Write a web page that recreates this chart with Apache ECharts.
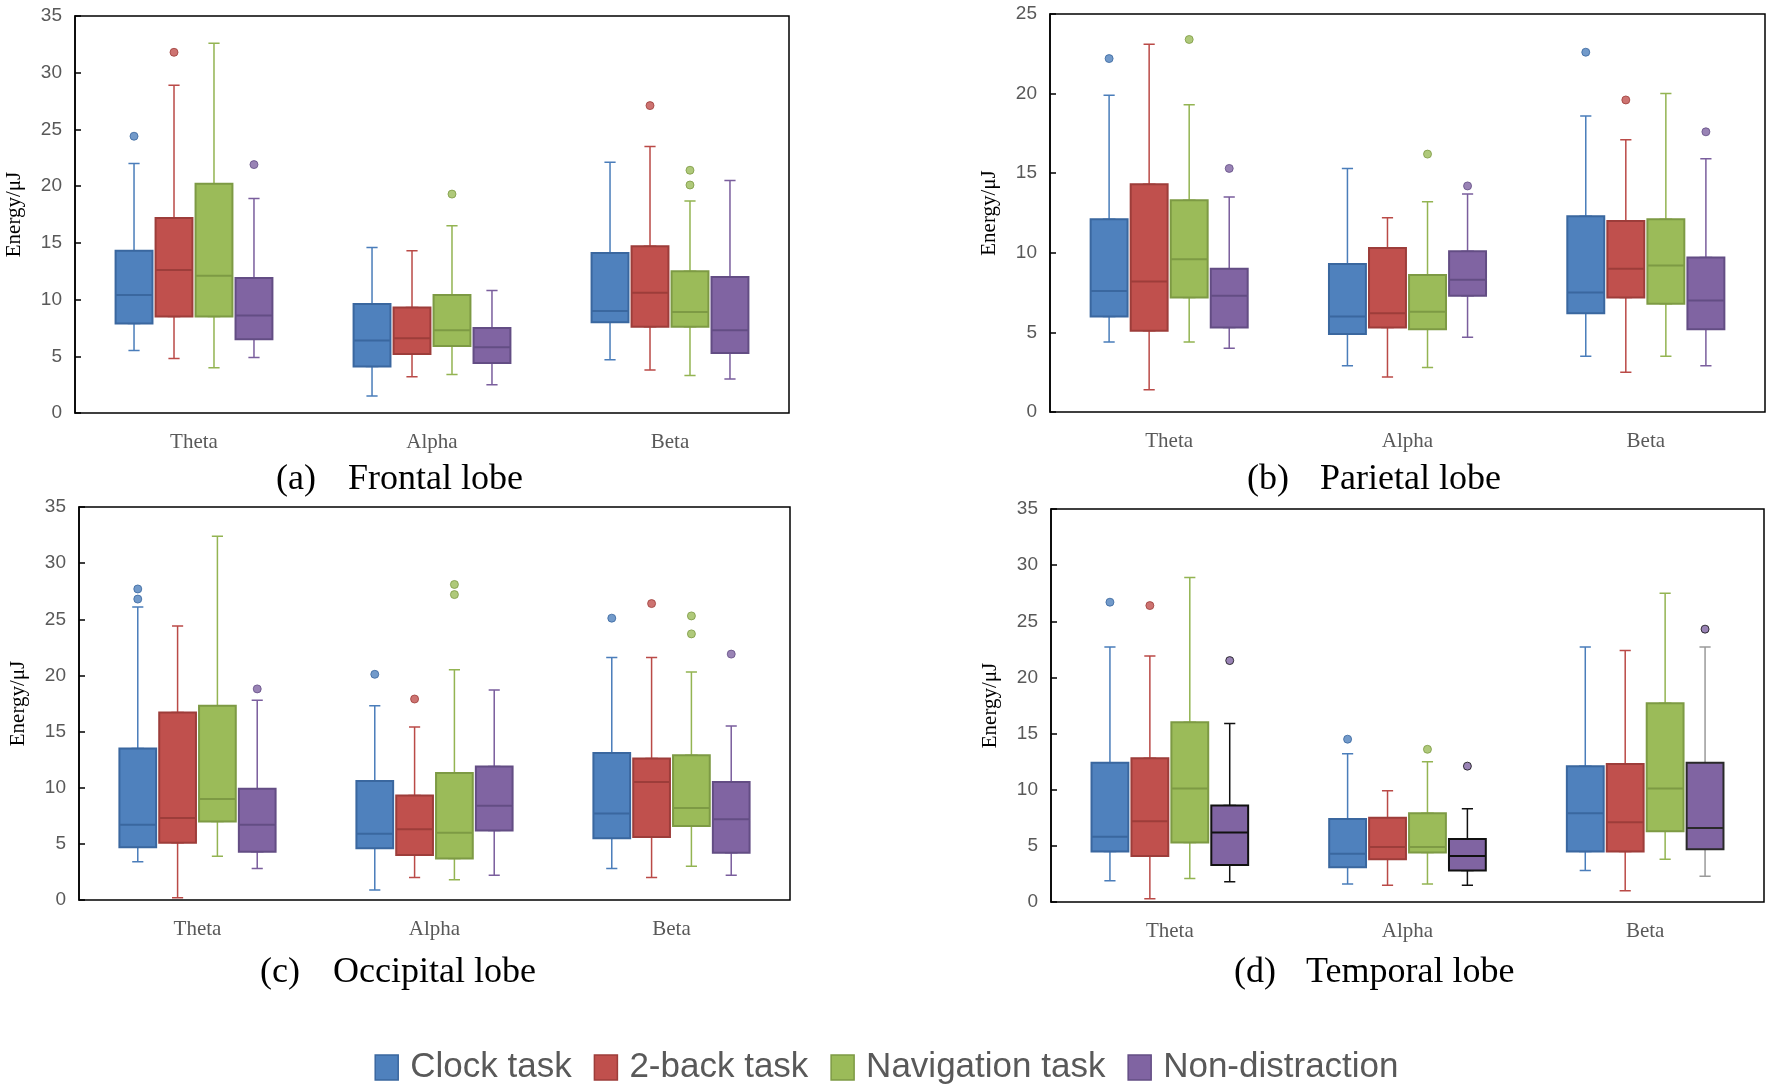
<!DOCTYPE html>
<html><head><meta charset="utf-8">
<script src="https://cdn.jsdelivr.net/npm/echarts@6/dist/echarts.min.js"></script>
<style>html,body{margin:0;padding:0;background:#fff}#c{width:1773px;height:1087px}</style>
</head><body><div id="c"></div>
<script>
// ---------- data ----------
const categories = ['Theta', 'Alpha', 'Beta'];
const seriesNames = ['Clock task', '2-back task', 'Navigation task', 'Non-distraction'];
const ticks35 = [0, 5, 10, 15, 20, 25, 30, 35];
const ticks25 = [0, 5, 10, 15, 20, 25];

// five-number summaries [min, Q1, median, Q3, max] per category (Theta, Alpha, Beta)
const frontalClock = [[5.5, 7.9, 10.4, 14.3, 22.0], [1.5, 4.1, 6.4, 9.6, 14.6], [4.7, 8.0, 9.0, 14.1, 22.1]];
const frontal2back = [[4.8, 8.5, 12.6, 17.2, 28.9], [3.2, 5.2, 6.6, 9.3, 14.3], [3.8, 7.6, 10.6, 14.7, 23.5]];
const frontalNav   = [[4.0, 8.5, 12.1, 20.2, 32.6], [3.4, 5.9, 7.3, 10.4, 16.5], [3.3, 7.6, 8.9, 12.5, 18.7]];
const frontalNon   = [[4.9, 6.5, 8.6, 11.9, 18.9], [2.5, 4.4, 5.8, 7.5, 10.8], [3.0, 5.3, 7.3, 12.0, 20.5]];
const frontalClockOut = [['Theta', 24.4]];
const frontal2backOut = [['Theta', 31.8], ['Beta', 27.1]];
const frontalNavOut   = [['Alpha', 19.3], ['Beta', 21.4], ['Beta', 20.1]];
const frontalNonOut   = [['Theta', 21.9]];

const parietalClock = [[4.4, 6.0, 7.6, 12.1, 19.9], [2.9, 4.9, 6.0, 9.3, 15.3], [3.5, 6.2, 7.5, 12.3, 18.6]];
const parietal2back = [[1.4, 5.1, 8.2, 14.3, 23.1], [2.2, 5.3, 6.2, 10.3, 12.2], [2.5, 7.2, 9.0, 12.0, 17.1]];
const parietalNav   = [[4.4, 7.2, 9.6, 13.3, 19.3], [2.8, 5.2, 6.3, 8.6, 13.2], [3.5, 6.8, 9.2, 12.1, 20.0]];
const parietalNon   = [[4.0, 5.3, 7.3, 9.0, 13.5], [4.7, 7.3, 8.3, 10.1, 13.7], [2.9, 5.2, 7.0, 9.7, 15.9]];
const parietalClockOut = [['Theta', 22.2], ['Beta', 22.6]];
const parietal2backOut = [['Beta', 19.6]];
const parietalNavOut   = [['Theta', 23.4], ['Alpha', 16.2]];
const parietalNonOut   = [['Theta', 15.3], ['Alpha', 14.2], ['Beta', 17.6]];

const occipitalClock = [[3.4, 4.7, 6.7, 13.5, 26.1], [0.9, 4.6, 5.9, 10.6, 17.3], [2.8, 5.5, 7.7, 13.1, 21.6]];
const occipital2back = [[0.2, 5.1, 7.3, 16.7, 24.4], [2.0, 4.0, 6.3, 9.3, 15.4], [2.0, 5.6, 10.5, 12.6, 21.6]];
const occipitalNav   = [[3.9, 7.0, 9.0, 17.3, 32.4], [1.8, 3.7, 6.0, 11.3, 20.5], [3.0, 6.6, 8.2, 12.9, 20.3]];
const occipitalNon   = [[2.8, 4.3, 6.7, 9.9, 17.8], [2.2, 6.2, 8.4, 11.9, 18.7], [2.2, 4.2, 7.2, 10.5, 15.5]];
const occipitalClockOut = [['Theta', 27.7], ['Theta', 26.8], ['Alpha', 20.1], ['Beta', 25.1]];
const occipital2backOut = [['Alpha', 17.9], ['Beta', 26.4]];
const occipitalNavOut   = [['Alpha', 28.1], ['Alpha', 27.2], ['Beta', 25.3], ['Beta', 23.7]];
const occipitalNonOut   = [['Theta', 18.8], ['Beta', 21.9]];

const temporalClock = [[1.9, 4.5, 5.8, 12.4, 22.7], [1.6, 3.1, 4.3, 7.4, 13.2], [2.8, 4.5, 7.9, 12.1, 22.7]];
const temporal2back = [[0.3, 4.1, 7.2, 12.8, 21.9], [1.5, 3.8, 4.9, 7.5, 9.9], [1.0, 4.5, 7.1, 12.3, 22.4]];
const temporalNav   = [[2.1, 5.3, 10.1, 16.0, 28.9], [1.6, 4.4, 4.9, 7.9, 12.5], [3.8, 6.3, 10.1, 17.7, 27.5]];
const temporalNon   = [[1.8, 3.3, 6.2, 8.6, 15.9], [1.5, 2.8, 4.1, 5.6, 8.3], [2.3, 4.7, 6.6, 12.4, 22.7]];
const temporalClockOut = [['Theta', 26.7], ['Alpha', 14.5]];
const temporal2backOut = [['Theta', 26.4]];
const temporalNavOut   = [['Alpha', 13.6]];
const temporalNonOut   = [['Theta', 21.5], ['Alpha', 12.1], ['Beta', 24.3]];

// ---------- styles ----------
const fills    = ['#4F81BD', '#C0504D', '#9BBB59', '#8064A2'];
const borders  = ['#3A679F', '#9D3D3A', '#7D9A44', '#634D84'];
const whiskers = ['#4A7DBA', '#BA4A47', '#93B452', '#7A5E9D'];

const panels = [
  { rect: [75, 16, 714, 397], ticks: ticks35,
    boxes: [frontalClock, frontal2back, frontalNav, frontalNon],
    outs: [frontalClockOut, frontal2backOut, frontalNavOut, frontalNonOut],
    label: '(a)', title: 'Frontal lobe', tx: [316, 348, 480] },
  { rect: [1050, 14, 715, 398], ticks: ticks25,
    boxes: [parietalClock, parietal2back, parietalNav, parietalNon],
    outs: [parietalClockOut, parietal2backOut, parietalNavOut, parietalNonOut],
    label: '(b)', title: 'Parietal lobe', tx: [1289, 1320, 480] },
  { rect: [79, 507, 711, 393], ticks: ticks35,
    boxes: [occipitalClock, occipital2back, occipitalNav, occipitalNon],
    outs: [occipitalClockOut, occipital2backOut, occipitalNavOut, occipitalNonOut],
    label: '(c)', title: 'Occipital lobe', tx: [300, 333, 973] },
  { rect: [1051, 509, 713, 393], ticks: ticks35,
    boxes: [temporalClock, temporal2back, temporalNav, temporalNon],
    outs: [temporalClockOut, temporal2backOut, temporalNavOut, temporalNonOut],
    label: '(d)', title: 'Temporal lobe', tx: [1276, 1306, 973],
    nonBorder: ['#111', '#111', '#2a2a2a'], nonWhisker: ['#111', '#111', '#9a9a9a'] }
];

const grids = [], xAxes = [], yAxes = [], series = [], graphics = [];

panels.forEach((p) => {
  const [L, T, W, H] = p.rect;
  const ymin = p.ticks[0], ymax = p.ticks[p.ticks.length - 1], interval = p.ticks[1] - p.ticks[0];
  const gi = grids.length;
  grids.push({ left: L, top: T, width: W, height: H, show: true, borderColor: '#000', borderWidth: 1.5,
               backgroundColor: 'rgba(0,0,0,0)', containLabel: false, outerBoundsMode: 'none' });
  xAxes.push({ type: 'category', gridIndex: gi, data: categories,
    axisLine: { show: false }, axisTick: { show: false }, splitLine: { show: false },
    axisLabel: { margin: 19, fontFamily: 'Liberation Serif', fontSize: 21, color: '#595959' } });
  yAxes.push({ type: 'value', gridIndex: gi, min: ymin, max: ymax, interval: interval,
    name: 'Energy/μJ', nameLocation: 'middle', nameGap: 50,
    nameTextStyle: { fontFamily: 'Liberation Serif', fontSize: 21, color: '#000' },
    axisLine: { show: true, lineStyle: { color: '#000', width: 1.5 } },
    axisTick: { show: true, inside: true, length: 6, lineStyle: { color: '#000', width: 1.5 } },
    axisLabel: { margin: 13, fontFamily: 'Liberation Sans', fontSize: 19, color: '#595959' },
    splitLine: { show: false } });

  const band = W / categories.length;
  const step = band * 0.168;
  const boxW = band * 0.155;
  const capW = band * 0.047;

  p.boxes.forEach((arr, s) => {
    const off = (s - 1.5) * step;
    const mk = () => {
      const g = grids.length;
      grids.push({ left: L + off, top: T, width: W, height: H, show: false, containLabel: false, outerBoundsMode: 'none' });
      xAxes.push({ type: 'category', gridIndex: g, data: categories, show: false });
      yAxes.push({ type: 'value', gridIndex: g, min: ymin, max: ymax, interval: interval, show: false, splitLine: { show: false } });
      return g;
    };
    const gBox = mk();
    const gWh = mk();
    const isNonD = (s === 3 && p.nonBorder);
    // box layer: box body and median (whiskers collapsed onto the box edges)
    series.push({
      type: 'boxplot', name: seriesNames[s], xAxisIndex: gBox, yAxisIndex: gBox,
      boxWidth: [boxW, boxW], z: 3, silent: true, animation: false,
      emphasis: { disabled: true },
      itemStyle: { color: fills[s], borderColor: borders[s], borderWidth: 2 },
      data: arr.map((v, ci) => {
        const item = { value: [v[1], v[1], v[2], v[3], v[3]] };
        if (isNonD) item.itemStyle = { borderColor: p.nonBorder[ci] };
        return item;
      })
    });
    // whisker layer: full five-number summary, narrow caps
    series.push({
      type: 'boxplot', name: seriesNames[s], xAxisIndex: gWh, yAxisIndex: gWh,
      boxWidth: [capW, capW], z: 2, silent: true, animation: false,
      emphasis: { disabled: true },
      itemStyle: { color: 'rgba(0,0,0,0)', borderColor: whiskers[s], borderWidth: 1.5 },
      data: arr.map((v, ci) => {
        const item = { value: v.slice() };
        if (isNonD) item.itemStyle = { borderColor: p.nonWhisker[ci] };
        return item;
      })
    });
    // outliers
    series.push({
      type: 'scatter', xAxisIndex: gBox, yAxisIndex: gBox, z: 4, silent: true, animation: false,
      symbol: 'circle', symbolSize: 8,
      itemStyle: { color: fills[s], borderColor: isNonD ? '#111' : borders[s], borderWidth: 1 },
      data: p.outs[s].map(o => [o[0], o[1]])
    });
  });

  graphics.push({ type: 'text', x: p.tx[0], y: p.tx[2],
    style: { text: p.label, font: '36px "Liberation Serif"', fill: '#000', align: 'right', verticalAlign: 'middle' } });
  graphics.push({ type: 'text', x: p.tx[1], y: p.tx[2],
    style: { text: p.title, font: '36px "Liberation Serif"', fill: '#000', align: 'left', verticalAlign: 'middle' } });
});

const chart = echarts.init(document.getElementById('c'), null, { renderer: 'canvas' });
chart.setOption({
  animation: false,
  backgroundColor: '#fff',
  grid: grids, xAxis: xAxes, yAxis: yAxes, series: series, graphic: graphics,
  tooltip: { show: false },
  legend: {
    left: 'center', top: 1045, icon: 'rect', itemWidth: 23, itemHeight: 25, itemGap: 22,
    selectedMode: false,
    textStyle: { fontFamily: 'Liberation Sans', fontSize: 35, color: '#595959', padding: [0, 0, 0, 7] },
    data: seriesNames.map((n, i) => ({ name: n, itemStyle: { color: fills[i], borderColor: borders[i], borderWidth: 1.5 } }))
  }
});
</script></body></html>
